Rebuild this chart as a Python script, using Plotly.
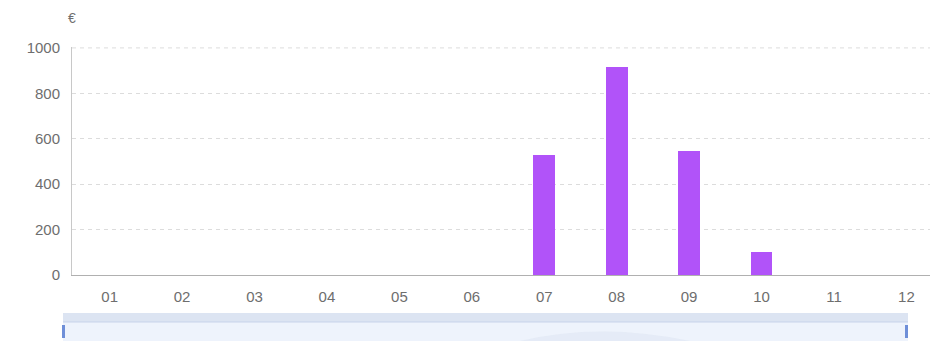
import plotly.graph_objects as go

months = ["01", "02", "03", "04", "05", "06", "07", "08", "09", "10", "11", "12"]
values = [0, 0, 0, 0, 0, 0, 530, 915, 545, 100, 0, 0]
y_ticks = [0, 200, 400, 600, 800, 1000]

W, H = 930, 341
L, R, T, B = 72, 0, 47, 66
pw, ph = W - L - R, H - T - B

def px(x):
    return (x - L) / pw

def py(y):
    return (H - B - y) / ph

fig = go.Figure()
fig.add_trace(go.Bar(
    x=list(range(len(months))), y=values,
    marker=dict(color="#b153f9", line=dict(width=0)),
    width=0.3,
))

shapes = [
    # top gridline (at the top of the value range)
    dict(type="line", xref="paper", yref="y", x0=0, x1=1, y0=y_ticks[-1], y1=y_ticks[-1],
         line=dict(color="#dcdcdc", width=1, dash="4px,4px"), layer="below"),
    # dataZoom slider background
    dict(type="rect", xref="paper", yref="paper", x0=px(63), x1=px(908), y0=py(341), y1=py(313),
         fillcolor="#eef3fc", line=dict(width=0), layer="above"),
    dict(type="rect", xref="paper", yref="paper", x0=px(63), x1=px(908), y0=py(322), y1=py(313),
         fillcolor="#dce4f2", line=dict(width=0), layer="above"),
    dict(type="line", xref="paper", yref="paper", x0=px(63), x1=px(908), y0=py(322), y1=py(322),
         line=dict(color="#c7d3ea", width=1), layer="above"),
    dict(type="rect", xref="paper", yref="paper", x0=px(62), x1=px(65), y0=py(338), y1=py(325),
         fillcolor="#6f8fd8", line=dict(width=0), layer="above"),
    dict(type="rect", xref="paper", yref="paper", x0=px(905), x1=px(908), y0=py(338), y1=py(325),
         fillcolor="#6f8fd8", line=dict(width=0), layer="above"),
    dict(type="path", xref="paper", yref="paper",
         path=f"M {px(520)},{py(341)} Q {px(600)},{py(322)} {px(690)},{py(341)} Z",
         fillcolor="rgba(220,228,242,0.5)", line=dict(width=0), layer="above"),
]

fig.update_layout(
    width=W, height=H,
    margin=dict(l=L, r=R, t=T, b=B),
    paper_bgcolor="white", plot_bgcolor="white",
    font=dict(family="Liberation Sans, Arial, sans-serif", size=15, color="#6e6e6e"),
    showlegend=False,
    bargap=0,
    shapes=shapes,
    xaxis=dict(
        range=[-0.52, (930 - 110) / 72.4],
        tickmode="array", tickvals=list(range(len(months))), ticktext=months,
        showgrid=False, zeroline=False,
        showline=True, linecolor="#b0b0b0", linewidth=1,
        ticks="", ticklabelstandoff=8,
        tickfont=dict(size=15, color="#6e6e6e"),
    ),
    yaxis=dict(
        range=[0, 1004],
        tickmode="array", tickvals=y_ticks, ticktext=[str(v) for v in y_ticks],
        showgrid=True, gridcolor="#dcdcdc", griddash="4px,4px", gridwidth=1,
        zeroline=False, showline=True, linecolor="#c8c8c8", linewidth=1,
        ticks="", ticklabelstandoff=8,
        tickfont=dict(size=15, color="#6e6e6e"),
    ),
    annotations=[
        dict(text="€", xref="paper", yref="paper", x=px(72), y=py(18),
             xanchor="center", yanchor="middle", showarrow=False,
             font=dict(size=14, color="#6e6e6e")),
    ],
)

fig.write_html("out.html")
